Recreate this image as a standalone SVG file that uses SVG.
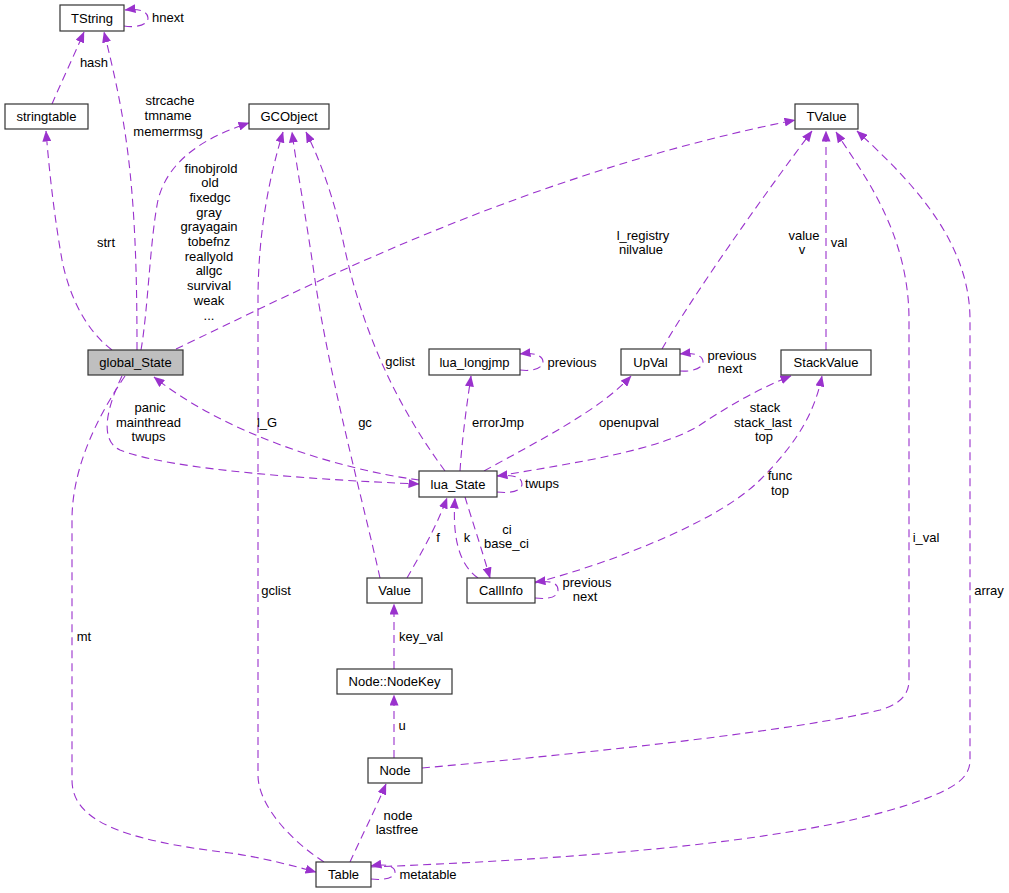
<svg xmlns="http://www.w3.org/2000/svg" width="1009" height="893" viewBox="0 0 1009 893">
<style>
.n rect{fill:#ffffff;stroke:#333333;stroke-width:1.2}
.n text,.l text{font-family:"Liberation Sans",Arial,sans-serif;font-size:13px;fill:#000000;text-anchor:middle}
#edges path{fill:none;stroke:#9a32cd;stroke-width:1.1;stroke-dasharray:8,5;marker-end:url(#ah)}
</style>
<defs>
<marker id="ah" viewBox="0 0 11 9" refX="10.5" refY="4.5" markerWidth="11" markerHeight="9" markerUnits="userSpaceOnUse" orient="auto">
<path d="M0,0 L11,4.5 L0,9 z" fill="#9a32cd" stroke="none"/>
</marker>
</defs>
<rect width="1009" height="893" fill="#ffffff"/>
<g id="edges">
<path d="M124,26 C136,28 148,25 148,18 C148,12 140,8 125,10"/>
<path d="M52,104 C60,85 72,60 84,32"/>
<path d="M137,350 C137,270 135,190 123,120 C118,90 111,60 104,32"/>
<path d="M112,350 C88,332 70,300 62,260 C55,220 50,180 46,131"/>
<path d="M141,350 C148,310 150,240 158,200 C168,160 205,137 249,123"/>
<path d="M176,349 C300,290 520,175 795,120"/>
<path d="M419,480 C330,468 220,430 154,377"/>
<path d="M122,376 C108,405 98,440 120,450 C170,470 320,480 419,484"/>
<path d="M125,376 C95,420 72,470 72,520 L72,780 C72,820 120,840 230,853 C260,857 290,865 316,872"/>
<path d="M324,862 C290,840 258,805 258,775 L258,300 C258,230 270,175 283,132"/>
<path d="M380,578 C365,510 330,380 315,280 C305,210 297,170 292,132"/>
<path d="M445,471 C400,410 365,340 345,250 C335,200 320,160 306,132"/>
<path d="M460,471 C462,440 466,410 471,376"/>
<path d="M520,370 C535,372 543,367 543,362 C543,356 535,352 520,354"/>
<path d="M484,471 C540,440 600,410 631,376"/>
<path d="M680,371 C695,372 703,367 703,362 C703,356 695,352 680,354"/>
<path d="M662,349 C690,300 760,200 812,131"/>
<path d="M826,350 L826,131"/>
<path d="M498,476 C580,462 660,450 700,425 C730,405 760,388 791,376"/>
<path d="M497,492 C515,494 522,489 522,484 C522,478 515,474 497,476"/>
<path d="M465,497 C472,520 482,550 490,578"/>
<path d="M478,578 C460,565 452,540 455,498"/>
<path d="M407,578 C420,555 435,530 447,498"/>
<path d="M535,598 C553,600 558,595 558,590 C558,584 553,580 535,582"/>
<path d="M535,583 C620,560 720,520 760,480 C800,440 815,410 822,376"/>
<path d="M394,669 L394,604"/>
<path d="M394,758 L394,695"/>
<path d="M422,768 C600,752 800,730 880,710 C905,703 909,690 909,680 L909,320 C909,230 860,170 836,132"/>
<path d="M350,862 C360,840 375,810 386,784"/>
<path d="M371,879 C388,881 395,876 395,872 C395,867 388,863 371,866"/>
<path d="M371,867 C600,858 820,840 930,797 C960,785 970,775 970,760 L970,320 C970,240 910,180 857,131"/>
</g>
<g id="labels" class="l">
<text x="168" y="22">hnext</text>
<text x="94" y="67">hash</text>
<text x="170" y="104.5">strcache</text>
<text x="168" y="120">tmname</text>
<text x="168" y="136">memerrmsg</text>
<text x="106" y="247">strt</text>
<text x="211" y="172.5">finobjrold</text>
<text x="210" y="187.2">old</text>
<text x="210" y="201.9">fixedgc</text>
<text x="209" y="216.6">gray</text>
<text x="209" y="231.3">grayagain</text>
<text x="209" y="246">tobefnz</text>
<text x="209" y="260.7">reallyold</text>
<text x="209" y="275.4">allgc</text>
<text x="209" y="290.1">survival</text>
<text x="209" y="304.8">weak</text>
<text x="209" y="319.5">...</text>
<text x="643" y="239.5">l_registry</text>
<text x="641" y="253.5">nilvalue</text>
<text x="804" y="239.5">value</text>
<text x="802" y="253.5">v</text>
<text x="839" y="247">val</text>
<text x="400" y="366">gclist</text>
<text x="267" y="427">l_G</text>
<text x="365" y="427">gc</text>
<text x="150" y="412">panic</text>
<text x="148.5" y="427">mainthread</text>
<text x="148.5" y="441">twups</text>
<text x="498" y="427">errorJmp</text>
<text x="572" y="366.5">previous</text>
<text x="629" y="427">openupval</text>
<text x="732" y="359.5">previous</text>
<text x="730" y="373">next</text>
<text x="765" y="412">stack</text>
<text x="763" y="427">stack_last</text>
<text x="764" y="441">top</text>
<text x="542" y="487.5">twups</text>
<text x="780" y="480">func</text>
<text x="780" y="495">top</text>
<text x="507" y="533.5">ci</text>
<text x="506.5" y="548">base_ci</text>
<text x="467" y="541.5">k</text>
<text x="438" y="541.5">f</text>
<text x="587" y="587">previous</text>
<text x="585" y="601">next</text>
<text x="926" y="541.5">i_val</text>
<text x="276" y="594.5">gclist</text>
<text x="989" y="594.5">array</text>
<text x="84" y="640.5">mt</text>
<text x="421" y="640.5">key_val</text>
<text x="402" y="729.5">u</text>
<text x="398" y="819.5">node</text>
<text x="397" y="833.5">lastfree</text>
<text x="428" y="878.5">metatable</text>
</g>
<g id="TString" class="n"><rect x="60" y="5" width="64" height="26"/><text x="92" y="22.5">TString</text></g>
<g id="stringtable" class="n"><rect x="5" y="104" width="83" height="25"/><text x="46.5" y="121">stringtable</text></g>
<g id="GCObject" class="n"><rect x="249" y="104" width="80" height="25"/><text x="289" y="121">GCObject</text></g>
<g id="TValue" class="n"><rect x="795" y="104" width="63" height="25"/><text x="826.5" y="121">TValue</text></g>
<g id="global_State" class="n"><rect x="88" y="350" width="95" height="25" style="fill:#bfbfbf"/><text x="135.5" y="367">global_State</text></g>
<g id="lua_longjmp" class="n"><rect x="429" y="349" width="91" height="26"/><text x="474.5" y="366.5">lua_longjmp</text></g>
<g id="UpVal" class="n"><rect x="621" y="349" width="59" height="26"/><text x="650.5" y="366.5">UpVal</text></g>
<g id="StackValue" class="n"><rect x="781" y="350" width="90" height="25"/><text x="826" y="367">StackValue</text></g>
<g id="lua_State" class="n"><rect x="419" y="471" width="78" height="26"/><text x="458" y="488.5">lua_State</text></g>
<g id="Value" class="n"><rect x="367" y="578" width="55" height="25"/><text x="394.5" y="595">Value</text></g>
<g id="CallInfo" class="n"><rect x="467" y="578" width="68" height="25"/><text x="501" y="595">CallInfo</text></g>
<g id="NodeKey" class="n"><rect x="337" y="669" width="115" height="25"/><text x="394.5" y="686">Node::NodeKey</text></g>
<g id="Node" class="n"><rect x="368" y="758" width="54" height="25"/><text x="395" y="775">Node</text></g>
<g id="Table" class="n"><rect x="316" y="862" width="55" height="25"/><text x="343.5" y="879">Table</text></g>
</svg>
